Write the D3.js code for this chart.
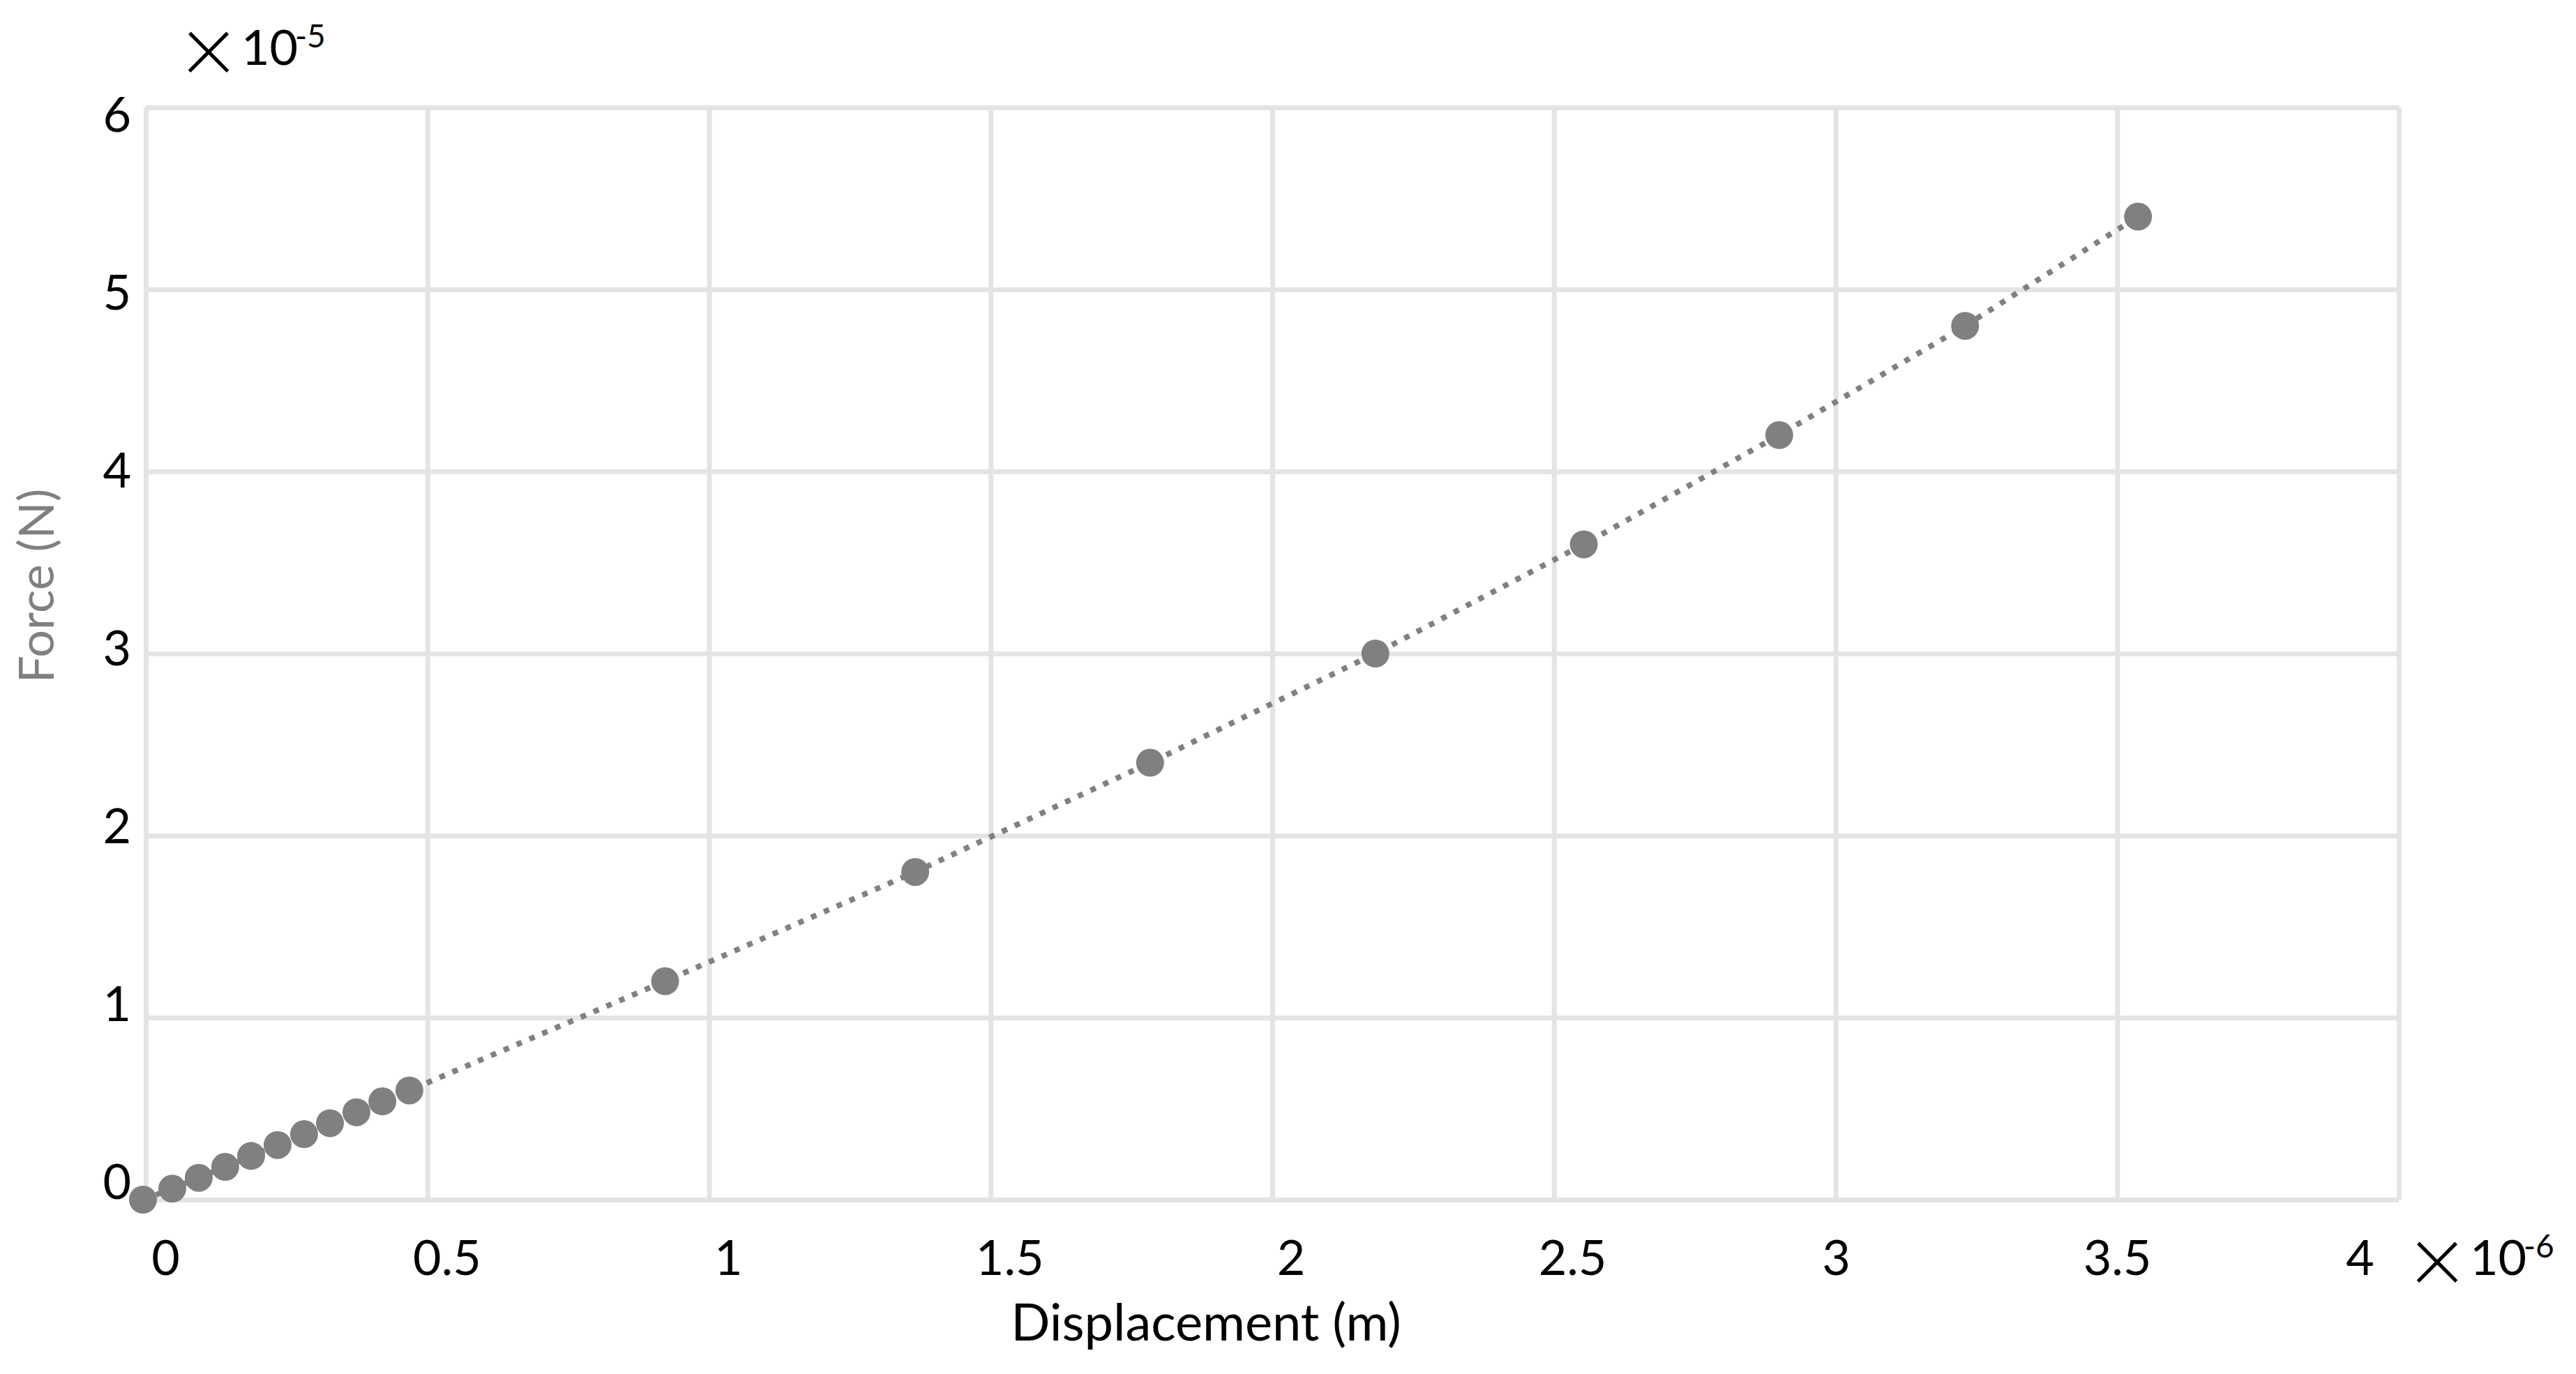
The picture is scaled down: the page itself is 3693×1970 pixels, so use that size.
<!DOCTYPE html>
<html>
<head>
<meta charset="utf-8">
<script src="https://cdn.jsdelivr.net/npm/d3@7/dist/d3.min.js"></script>
<style>
  html, body { margin: 0; padding: 0; background: #fff; }
  svg text { font-family: Lato, "Open Sans", sans-serif; }
</style>
</head>
<body>
<svg width="3693" height="1970"></svg>
<script>
// displacement in units of 1e-6 m, force in units of 1e-5 N
var displacement = [-0.005, 0.047, 0.094, 0.141, 0.187, 0.234, 0.281, 0.327, 0.374, 0.420, 0.468,
  0.922, 1.366, 1.783, 2.183, 2.553, 2.900, 3.230, 3.537];
var force = [0, 0.06, 0.12, 0.18, 0.24, 0.30, 0.36, 0.42, 0.48, 0.54, 0.60,
  1.2, 1.8, 2.4, 3.0, 3.6, 4.2, 4.8, 5.4];
var xTicks = [0, 0.5, 1, 1.5, 2, 2.5, 3, 3.5, 4];
var yTicks = [0, 1, 2, 3, 4, 5, 6];
var xExponent = "-6", yExponent = "-5";
var xTitle = "Displacement (m)", yTitle = "Force (N)";

var svg = d3.select("svg"),
  pLeft = 209, pRight = 3439, pTop = 154, pBottom = 1720;

var x = d3.scaleLinear().domain([0, 4]).range([pLeft, pRight]),
  y = d3.scaleLinear().domain([0, 6]).range([pBottom, pTop]);

// tick labels in the original sit a bit off their grid lines
var xLab = d3.scaleLinear().domain([0, 2.5, 3, 3.5, 4]).range([237, 2254, 2632, 3035, 3383]),
  yLab = d3.scaleLinear().domain([0, 6]).range([1693, 163]);

var grid = "#e4e4e4", grey = "#808080";
var fmt = d3.format("");

// grid
svg.append("g")
  .attr("transform", "translate(0," + pBottom + ")")
  .call(d3.axisBottom(x).tickValues(xTicks).tickSize(-(pBottom - pTop)).tickFormat(""))
  .call(function(g) { g.select(".domain").remove(); })
  .selectAll("line").attr("stroke", grid).attr("stroke-width", 7);

svg.append("g")
  .attr("transform", "translate(" + pLeft + ",0)")
  .call(d3.axisLeft(y).tickValues(yTicks).tickSize(-(pRight - pLeft)).tickFormat(""))
  .call(function(g) { g.select(".domain").remove(); })
  .selectAll("line").attr("stroke", grid).attr("stroke-width", 7);

// tick labels
var yAxis = svg.append("g")
  .attr("transform", "translate(188,0)")
  .call(d3.axisLeft(yLab).tickValues(yTicks).tickSize(0).tickPadding(0).tickFormat(fmt));
yAxis.select(".domain").remove();
yAxis.selectAll("text").attr("font-size", 70).attr("fill", "#000").attr("dy", "0.36em");

var xAxis = svg.append("g")
  .attr("transform", "translate(0,1828)")
  .call(d3.axisBottom(xLab).tickValues(xTicks).tickSize(0).tickPadding(0).tickFormat(fmt));
xAxis.select(".domain").remove();
xAxis.selectAll("text").attr("font-size", 70).attr("fill", "#000").attr("dy", 0);

// exponents
function exponent(x0, base, exp) {
  var t = svg.append("text").attr("fill", "#000");
  t.append("tspan").attr("x", x0 + 24).attr("y", base + 28).attr("font-size", 138)
    .attr("font-weight", 300).attr("text-anchor", "middle").text("\u00d7");
  t.append("tspan").attr("x", x0 + 71).attr("y", base).attr("font-size", 70).text("10");
  t.append("tspan").attr("x", x0 + 148).attr("y", base - 25).attr("font-size", 46).text(exp);
}
exponent(275, 93, yExponent);
exponent(3470, 1828, xExponent);

// axis titles
svg.append("text")
  .attr("x", 1729).attr("y", 1922)
  .attr("text-anchor", "middle").attr("font-size", 74).attr("fill", "#000")
  .text(xTitle);

svg.append("text")
  .attr("transform", "translate(77,840) rotate(-90)")
  .attr("text-anchor", "middle").attr("font-size", 70).attr("fill", grey)
  .text(yTitle);

// series
var pts = displacement.map(function(d, i) { return { x: d, y: force[i] }; });

var line = d3.line()
  .x(function(d) { return x(d.x); })
  .y(function(d) { return y(d.y); });

svg.append("path")
  .datum(pts)
  .attr("d", line)
  .attr("fill", "none")
  .attr("stroke", grey)
  .attr("stroke-width", 8)
  .attr("stroke-dasharray", "8,12");

svg.append("g")
  .selectAll("circle")
  .data(pts)
  .enter()
  .append("circle")
  .attr("cx", function(d) { return x(d.x); })
  .attr("cy", function(d) { return y(d.y); })
  .attr("r", 20)
  .attr("fill", grey);
</script>
</body>
</html>
